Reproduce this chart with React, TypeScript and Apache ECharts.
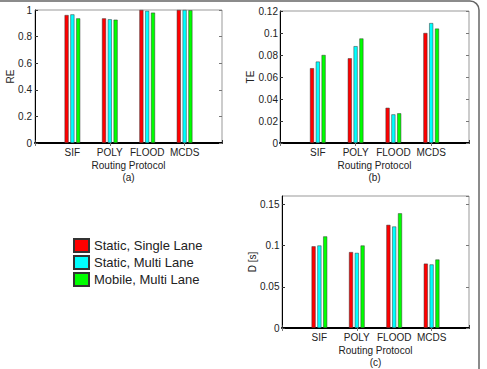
import React, { useEffect, useRef } from "react";
import * as echarts from "echarts";

// Routing protocols compared on each panel
const categories = ["SIF", "POLY", "FLOOD", "MCDS"];
const seriesNames = ["Static, Single Lane", "Static, Multi Lane", "Mobile, Multi Lane"];
const seriesColors = ["#ff0000", "#00ffff", "#00ff00"];

// (a) RE per protocol
const reSingle = [0.962, 0.937, 1.0, 1.0];
const reMulti = [0.967, 0.93, 0.993, 1.0];
const reMobile = [0.937, 0.927, 0.98, 0.998];

// (b) TE per protocol
const teSingle = [0.068, 0.077, 0.032, 0.1];
const teMulti = [0.074, 0.088, 0.026, 0.109];
const teMobile = [0.08, 0.095, 0.027, 0.104];

// (c) D [s] per protocol
const dSingle = [0.099, 0.092, 0.125, 0.078];
const dMulti = [0.1, 0.091, 0.123, 0.077];
const dMobile = [0.111, 0.1, 0.139, 0.083];

const panelLabels = ["(a)", "(b)", "(c)"];
const yNames = ["RE", "TE", "D [s]"];
const yMax = [1, 0.12, 0.16];
const yInterval = [0.2, 0.02, 0.05];
const yNameGaps = [20, 24.5, 25];
const yLabelMargins = [3, 2, 2.5];

const FONT = "Liberation Sans, Arial, Helvetica, sans-serif";

// empty slots at both ends give the axis its margin around the groups
const paddedCats = ["", ...categories, ""];
const pad = (v: number[]) => ["-", ...v, "-"];

export default function App() {
  const ref = useRef<HTMLDivElement>(null);

  useEffect(() => {
    if (!ref.current) return;
    const chart = echarts.init(ref.current, undefined, { renderer: "svg" });

    const grids = [
      { left: 35, top: 10, width: 187, height: 133 },
      { left: 280, top: 11, width: 189, height: 132 },
      { left: 282, top: 196, width: 187, height: 133 },
    ].map((g) => ({ ...g, show: true, borderColor: "#999", borderWidth: 1, backgroundColor: "#fff" }));

    const panelData = [
      [reSingle, reMulti, reMobile],
      [teSingle, teMulti, teMobile],
      [dSingle, dMulti, dMobile],
    ];

    const xAxes: any[] = [];
    const yAxes: any[] = [];
    for (let i = 0; i < 3; i++) {
      xAxes.push({
        type: "category",
        gridIndex: i,
        data: paddedCats,
        boundaryGap: false,
        position: "bottom",
        axisLine: { lineStyle: { color: "#000", width: 2 } },
        axisTick: { inside: true, length: 3, lineStyle: { color: "#333" } },
        axisLabel: { fontSize: 10, color: "#222", fontFamily: FONT, margin: 4, interval: 0 },
        name: "Routing Protocol\n" + panelLabels[i],
        nameLocation: "middle",
        nameGap: 16,
        nameMoveOverlap: false,
        nameTextStyle: { fontSize: 10, color: "#222", fontFamily: FONT, lineHeight: 12, verticalAlign: "top" },
        splitLine: { show: false },
      });
      yAxes.push({
        type: "value",
        gridIndex: i,
        min: 0,
        max: yMax[i],
        interval: yInterval[i],
        position: "left",
        axisLine: { show: true, lineStyle: { color: "#000", width: 1 } },
        axisTick: { show: true, inside: true, length: 3, lineStyle: { color: "#333" } },
        axisLabel: {
          fontSize: 10,
          color: "#222",
          fontFamily: FONT,
          margin: yLabelMargins[i],
          showMaxLabel: i !== 2,
        },
        splitLine: { show: false },
        name: yNames[i],
        nameLocation: "middle",
        nameGap: yNameGaps[i],
        nameMoveOverlap: false,
        nameRotate: 90,
        nameTextStyle: { fontSize: 10, color: "#222", fontFamily: FONT },
      });
    }
    // mirrored ticks on the top and right edges of each box
    for (let i = 0; i < 3; i++) {
      xAxes.push({
        type: "category",
        gridIndex: i,
        data: paddedCats,
        boundaryGap: false,
        position: "top",
        axisLine: { show: false },
        axisTick: { inside: true, length: 3, lineStyle: { color: "#777" } },
        axisLabel: { show: false },
        splitLine: { show: false },
      });
      yAxes.push({
        type: "value",
        gridIndex: i,
        min: 0,
        max: yMax[i],
        interval: yInterval[i],
        position: "right",
        axisLine: { show: false },
        axisTick: { show: true, inside: true, length: 3, lineStyle: { color: "#777" } },
        axisLabel: { show: false },
        splitLine: { show: false },
      });
    }

    const series: any[] = [];
    for (let i = 0; i < 3; i++) {
      for (let j = 0; j < 3; j++) {
        series.push({
          type: "bar",
          name: seriesNames[j],
          xAxisIndex: i,
          yAxisIndex: i,
          data: pad(panelData[i][j]),
          barWidth: 4,
          barGap: "45%",
          itemStyle: { color: seriesColors[j], borderColor: "#333", borderWidth: 0.5 },
        });
      }
    }

    chart.setOption({
      animation: false,
      backgroundColor: "#fff",
      grid: grids,
      xAxis: xAxes,
      yAxis: yAxes,
      series,
      legend: {
        data: seriesNames,
        orient: "vertical",
        left: 73,
        top: 238,
        padding: 0,
        itemWidth: 15,
        itemHeight: 13,
        itemGap: 2,
        icon: "rect",
        textStyle: { fontSize: 13, color: "#222", fontFamily: FONT },
        selectedMode: false,
      },
      graphic: [
        {
          type: "rect",
          shape: { x: -20, y: 1, width: 499, height: 400, r: 9 },
          style: { fill: "none", stroke: "#666", lineWidth: 1.5 },
          silent: true,
        },
      ],
    });

    return () => chart.dispose();
  }, []);

  return (
    <div
      ref={ref}
      style={{ position: "fixed", left: 0, top: 0, width: 487, height: 369 }}
    />
  );
}
